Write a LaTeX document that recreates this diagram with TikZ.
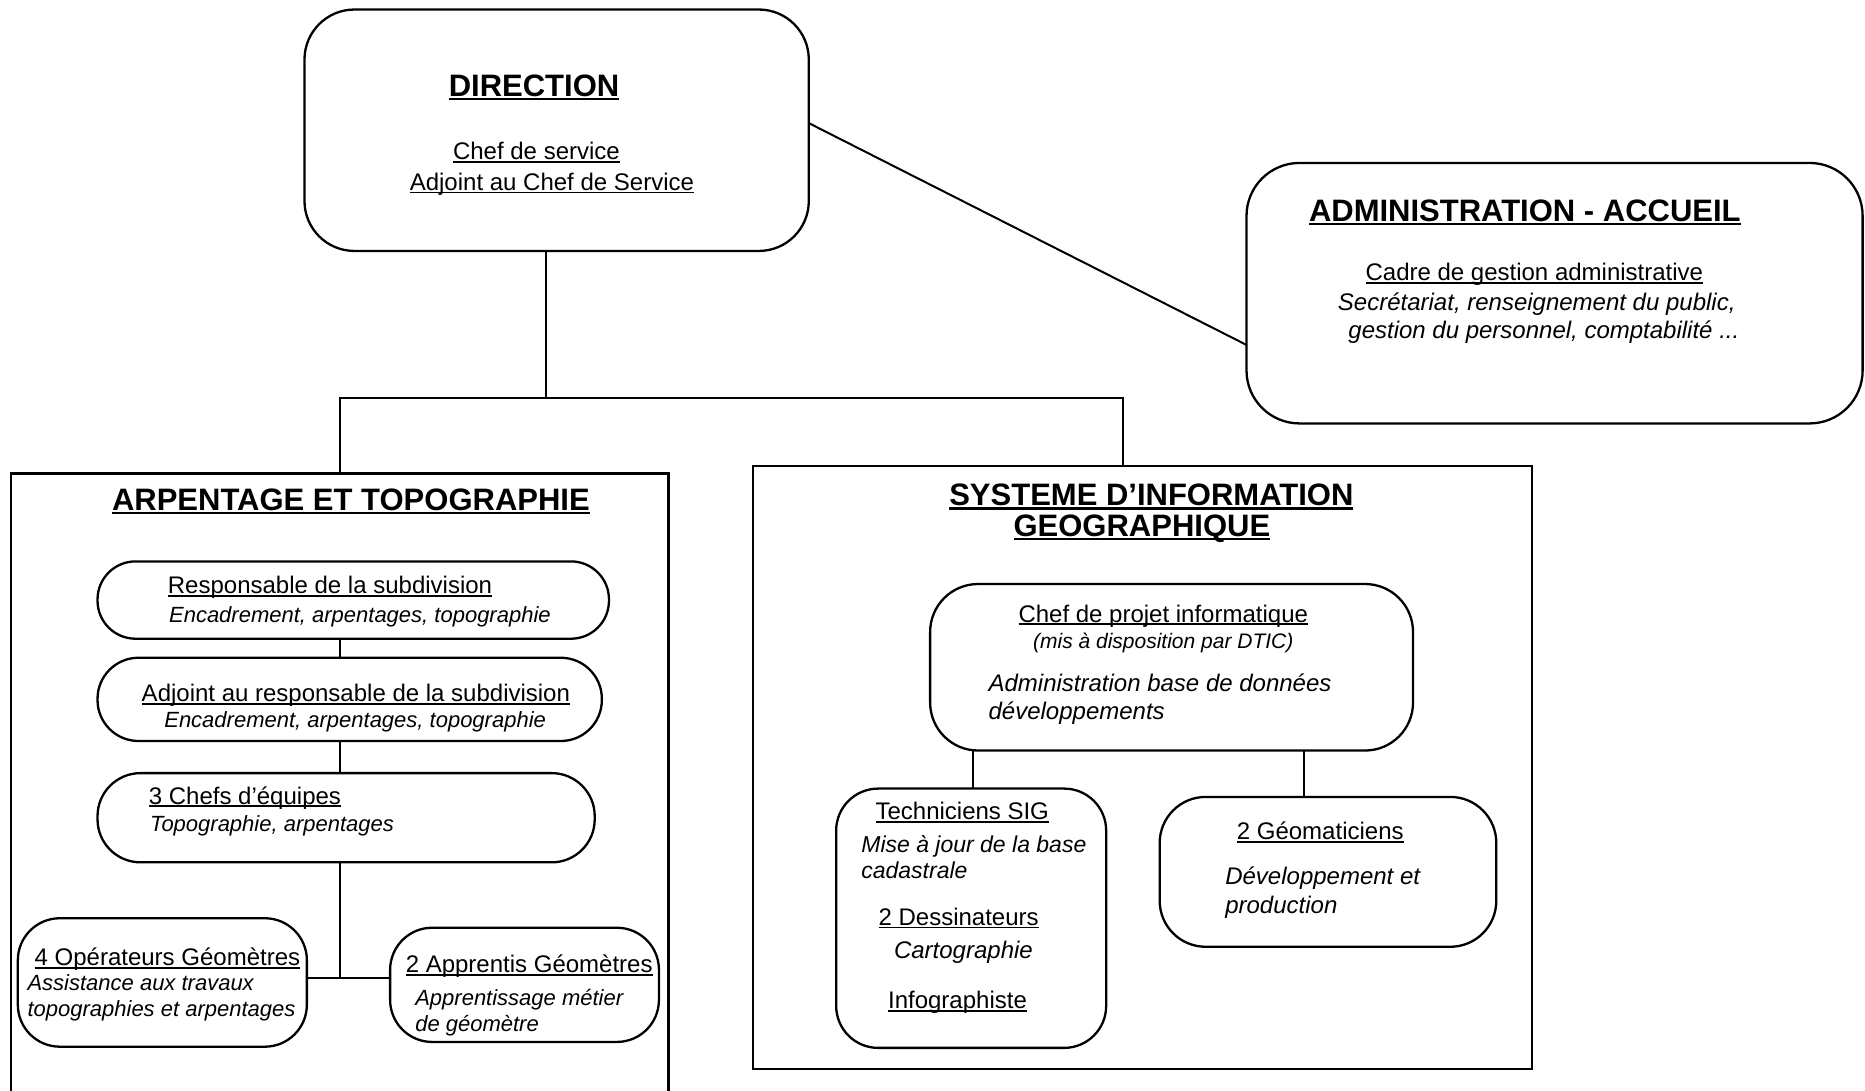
\documentclass[tikz,border=0pt]{standalone}
\usepackage{fontspec}
\setmainfont{Liberation Sans}
\usetikzlibrary{fit,calc}
\newcommand\uln[1]{\setbox0=\hbox{#1}\rlap{\rule[-0.13em]{\wd0}{0.075em}}\box0}
\tikzset{
  box/.style={draw, line width=2.3pt, inner sep=0pt, outer sep=0pt},
  conn/.style={draw, line width=2pt},
  tx/.style={inner sep=0pt, font=\fontsize{24}{29}\selectfont},
  itx/.style={inner sep=0pt, font=\fontsize{22}{26}\selectfont\itshape},
  itb/.style={inner sep=0pt, font=\fontsize{24}{29}\selectfont\itshape},
  ttl/.style={inner sep=0pt, font=\fontsize{31}{36}\selectfont\bfseries},
}
\begin{document}
\begin{tikzpicture}[x=1.1894pt,y=-1.1894pt]
\fill[white] (0,0) rectangle (1568,917);
\useasboundingbox (0,0) rectangle (1568,917);

% boxes
\node[box, rounded corners=50pt, fit={(256,8)(680,211)}] (dir) {};
\node[box, rounded corners=53pt, fit={(1048,137)(1566,356)}] (adm) {};
\node[box, fit={(9,398)(562,930)}] (arp) {};
\node[box, fit={(633,392)(1288,899)}] (sig) {};
\node[box, rounded corners=38pt, fit={(82,472)(512,537)}] (resp) {};
\node[box, rounded corners=41pt, fit={(82,553)(506,623)}] (adj) {};
\node[box, rounded corners=43pt, fit={(82,650)(500,725)}] (chefs) {};
\node[box, rounded corners=42pt, fit={(15,772)(258,880)}] (ope) {};
\node[box, rounded corners=42pt, fit={(328,780)(554,876)}] (app) {};
\node[box, rounded corners=48pt, fit={(782,491)(1188,631)}] (cdp) {};
\node[box, rounded corners=42pt, fit={(703,663)(930,881)}] (tech) {};
\node[box, rounded corners=46pt, fit={(975,670)(1258,796)}] (geo) {};

% texts: DIRECTION
\node[ttl, anchor=base] (t1) at (449,81) {\uln{DIRECTION}};
\node[tx, anchor=base] (t2) at (451,134) {\uln{Chef de service}};
\node[tx, anchor=base] (t3) at (464,160) {\uln{Adjoint au Chef de Service}};
% ADMIN
\node[ttl, anchor=base] (t4) at (1282,186) {\uln{ADMINISTRATION - ACCUEIL}};
\node[tx, anchor=base] (t5) at (1290,236) {\uln{Cadre de gestion administrative}};
\node[itb, anchor=base] (t6) at (1292,261) {Secrétariat, renseignement du public,};
\node[itb, anchor=base] (t7) at (1298,285) {gestion du personnel, comptabilité ...};
% ARPENTAGE
\node[ttl, anchor=base] (t8) at (295,429) {\uln{ARPENTAGE ET TOPOGRAPHIE}};
\node[tx, anchor=base west] (t9) at (141,499) {\uln{Responsable de la subdivision}};
\node[itx, anchor=base west] (t10) at (142,523) {Encadrement, arpentages, topographie};
\node[tx, anchor=base west] (t11) at (119,590) {\uln{Adjoint au responsable de la subdivision}};
\node[itx, anchor=base west] (t12) at (138,612) {Encadrement, arpentages, topographie};
\node[tx, anchor=base west] (t13) at (125,676) {\uln{3 Chefs d\char39équipes}};
\node[itx, anchor=base west] (t14) at (126,699) {Topographie, arpentages};
\node[tx, anchor=base west] (t15) at (29,812) {\uln{4 Opérateurs Géomètres}};
\node[itx, anchor=base west] (t16) at (23,833) {Assistance aux travaux};
\node[itx, anchor=base west] (t17) at (23,855) {topographies et arpentages};
\node[tx, anchor=base west] (t18) at (341,818) {\uln{2 Apprentis Géomètres}};
\node[itx, anchor=base west] (t19) at (349,845) {Apprentissage métier};
\node[itx, anchor=base west] (t20) at (349,867) {de géomètre};
% SIG
\node[ttl, anchor=base] (t21) at (968,425) {\uln{SYSTEME D’INFORMATION}};
\node[ttl, anchor=base] (t22) at (960,451) {\uln{GEOGRAPHIQUE}};
\node[tx, anchor=base] (t23) at (978,523) {\uln{Chef de projet informatique}};
\node[inner sep=0pt, font=\fontsize{21}{25}\selectfont\itshape, anchor=base] (t24) at (978,545) {(mis à disposition par DTIC)};
\node[itb, anchor=base west] (t25) at (831,581) {Administration base de données};
\node[itb, anchor=base west] (t26) at (831,605) {développements};
\node[tx, anchor=base] (t27) at (809,689) {\uln{Techniciens SIG}};
\node[itb, anchor=base west, font=\fontsize{23}{28}\selectfont\itshape] (t28) at (724,717) {Mise à jour de la base};
\node[itb, anchor=base west, font=\fontsize{23}{28}\selectfont\itshape] (t29) at (724,739) {cadastrale};
\node[tx, anchor=base] (t30) at (806,778) {\uln{2 Dessinateurs}};
\node[itb, anchor=base] (t31) at (810,806) {Cartographie};
\node[tx, anchor=base] (t32) at (805,848) {\uln{Infographiste}};
\node[tx, anchor=base] (t33) at (1110,706) {\uln{2 Géomaticiens}};
\node[itb, anchor=base west] (t34) at (1030,744) {Développement et};
\node[itb, anchor=base west] (t35) at (1030,768) {production};

% connectors
\coordinate (jd) at (459,335);
\coordinate (bus) at (944,335);
\coordinate (lx) at (286,0);
\coordinate (hb) at (286,822);
\coordinate (tc) at (818,0);
\coordinate (gc) at (1096,0);
\draw[conn] (jd |- dir.south) -- (jd);
\draw[conn] (arp.north) |- (bus) -- (bus |- sig.north);
\draw[conn] ($(dir.east)+(0,-6)$) -- ($(adm.west)+(0,43.5)$);
\draw[conn] (lx |- resp.south) -- (lx |- adj.north);
\draw[conn] (lx |- adj.south) -- (lx |- chefs.north);
\draw[conn] (lx |- chefs.south) -- (hb);
\draw[conn] (ope.east |- hb) -- (app.west |- hb);
\draw[conn] (tc |- cdp.south) -- (tc |- tech.north);
\draw[conn] (gc |- cdp.south) -- (gc |- geo.north);
\end{tikzpicture}
\end{document}
